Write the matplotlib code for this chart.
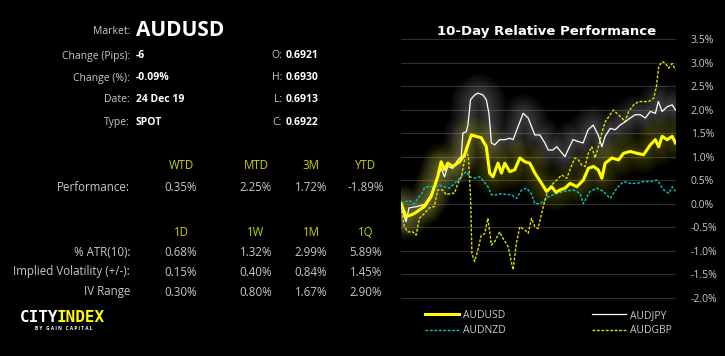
import matplotlib.pyplot as plt
from matplotlib.ticker import FuncFormatter

plt.rcParams['font.family'] = ['Open Sans', 'DejaVu Sans']

# --- datos del panel izquierdo ---
market = 'AUDUSD'
info_labels = ['Change (Pips):', 'Change (%):', 'Date:', 'Type:']
info_values = ['-6', '-0.09%', '24 Dec 19', 'SPOT']
ohlc_labels = ['O:', 'H:', 'L:', 'C:']
ohlc_values = ['0.6921', '0.6930', '0.6913', '0.6922']

perf_headers = ['WTD', 'MTD', '3M', 'YTD']
perf_values = ['0.35%', '2.25%', '1.72%', '-1.89%']

vol_headers = ['1D', '1W', '1M', '1Q']
vol_rows = ['% ATR(10):', 'Implied Volatility (+/-):', 'IV Range']
vol_values = [
    ['0.68%', '1.32%', '2.99%', '5.89%'],
    ['0.15%', '0.40%', '0.84%', '1.45%'],
    ['0.30%', '0.80%', '1.67%', '2.90%'],
]

# --- rendimiento relativo 10 dias (horas desde inicio, %) ---
usd_h = [0, 4.4, 11.7, 20.5, 26.3, 32.1, 35.1, 38.0, 40.9, 45.3, 51.2, 55.6, 58.5, 61.5,
         65.8, 70.2, 74.6, 77.5, 80.4, 84.8, 87.8, 90.7, 95.1, 99.5, 103.9, 108.3, 112.6,
         117.0, 122.9, 127.3, 131.7, 135.5, 139.0, 143.5, 147.8, 153.7, 159.4, 163.8, 168.2,
         172.4, 175.6, 178.5, 184.4, 190.2, 194.6, 200.4, 206.3, 212.1, 218.0, 222.4, 225.3,
         228.3, 232.7, 237.1, 240]
usd_v = [0.0, -0.28, -0.21, -0.06, 0.15, 0.57, 0.89, 0.72, 0.86, 0.79, 0.89, 1.04, 1.25, 1.46,
         1.43, 1.40, 1.21, 0.65, 0.57, 0.86, 0.65, 0.86, 0.68, 0.72, 0.97, 0.89, 0.86,
         0.65, 0.43, 0.26, 0.36, 0.24, 0.29, 0.33, 0.43, 0.36, 0.50, 0.75, 0.79,
         0.72, 0.54, 0.86, 0.97, 0.93, 1.07, 1.11, 1.07, 1.04, 1.25, 1.36, 1.21,
         1.43, 1.36, 1.43, 1.29]

jpy_h = [0, 4.4, 7.0, 14.6, 20.5, 26.3, 32.1, 35.1, 38.0, 40.9, 45.3, 49.7, 52.7, 54.1, 57.1,
         58.5, 60.8, 64.4, 67.3, 71.6, 74.6, 76.9, 79.0, 81.9, 86.3, 90.7, 95.1, 98.0, 102.4,
         106.8, 111.2, 114.1, 117.0, 121.4, 125.8, 128.7, 132.8, 136.1, 143.4, 146.0, 150.4,
         154.8, 159.2, 163.6, 168.0, 172.4, 175.6, 178.5, 182.9, 187.3, 191.6, 196.0, 200.4,
         204.8, 209.2, 213.6, 218.0, 222.4, 225.0, 228.3, 232.7, 237.1, 240]
jpy_v = [-0.05, -0.38, -0.09, -0.06, -0.02, 0.19, 0.57, 0.75, 0.57, 0.79, 0.75, 0.93, 1.00, 1.50, 1.53,
         1.67, 2.21, 2.31, 2.35, 2.31, 2.21, 1.92, 1.29, 1.25, 1.36, 1.36, 1.39, 1.36, 1.64,
         1.92, 1.82, 1.64, 1.46, 1.46, 1.29, 1.14, 1.14, 1.21, 1.00, 1.14, 1.36,
         1.32, 1.29, 1.57, 1.67, 1.46, 1.21, 1.43, 1.60, 1.57, 1.67, 1.74, 1.82,
         1.89, 1.89, 1.82, 1.96, 1.92, 2.17, 1.96, 2.06, 2.10, 1.99]

nzd_h = [0, 4.4, 7.0, 11.7, 14.6, 17.6, 20.5, 23.4, 29.2, 33.6, 38.0, 42.4, 46.8, 51.2, 55.6,
         57.1, 60.0, 64.4, 68.7, 71.6, 76.0, 79.0, 83.4, 87.8, 92.2, 96.6, 101.0, 105.4, 109.8,
         114.1, 117.0, 121.4, 125.8, 128.7, 133.1, 141.9, 150.7, 156.6, 159.4, 165.3, 171.2,
         177.0, 182.9, 188.8, 194.6, 200.4, 206.3, 212.1, 218.0, 223.9, 229.7, 234.1, 237.1, 240]
nzd_v = [0.0, 0.04, 0.07, 0.0, 0.11, 0.19, 0.33, 0.36, 0.36, 0.39, 0.36, 0.33, 0.43, 0.54, 0.65,
         0.68, 0.57, 0.54, 0.57, 0.50, 0.36, 0.19, 0.19, 0.21, 0.19, 0.19, 0.11, 0.29, 0.33,
         0.21, 0.0, 0.0, 0.07, 0.14, 0.19, 0.26, 0.29, 0.22, 0.0, 0.26, 0.33,
         0.26, 0.11, 0.33, 0.47, 0.43, 0.43, 0.47, 0.47, 0.50, 0.29, 0.22, 0.36, 0.26]

gbp_h = [0, 2.9, 5.8, 10.2, 13.2, 16.1, 20.5, 24.8, 29.2, 32.1, 36.5, 39.5, 43.9, 46.8, 49.7,
         52.7, 55.6, 57.1, 59.1, 60.8, 62.0, 64.4, 67.3, 70.2, 73.1, 76.0, 79.0, 81.9, 86.3,
         89.2, 93.6, 98.0, 100.9, 103.9, 108.3, 111.2, 114.1, 117.0, 119.9, 122.9, 125.8, 128.7,
         133.1, 136.1, 140.5, 144.9, 149.3, 152.2, 155.1, 158.0, 160.9, 163.8, 166.8, 169.7,
         172.6, 175.6, 178.5, 182.9, 185.8, 188.7, 193.1, 196.0, 199.0, 203.4, 207.8, 212.1,
         216.5, 220.9, 223.3, 225.3, 228.3, 231.2, 234.1, 237.1, 240]
gbp_v = [-0.06, -0.49, -0.60, -0.60, -0.67, -0.31, -0.21, -0.09, -0.06, 0.29, 0.29, 0.19, 0.22, 0.22, 0.43,
         0.57, 0.93, 1.21, 0.93, 0.15, -1.06, -1.23, -0.98, -0.67, -0.64, -0.31, -0.88, -0.81, -0.60,
         -0.74, -0.91, -1.41, -0.84, -0.49, -0.56, -0.63, -0.31, -0.49, -0.53, -0.21, 0.07, 0.29,
         0.43, 0.50, 0.61, 0.54, 0.82, 0.97, 0.93, 0.82, 0.79, 1.07, 1.21, 0.97,
         1.21, 1.50, 1.74, 1.89, 1.99, 1.92, 1.82, 1.74, 1.96, 2.10, 2.17, 2.17,
         2.17, 2.24, 2.49, 2.91, 3.02, 2.98, 2.88, 2.98, 2.84]

W, H = 725, 356
fig = plt.figure(figsize=(W / 100, H / 100), dpi=100, facecolor='black')

GRIS = '#c8c8c8'
VERDE = '#c8d200'


def fx(px):
    return px / W


def fy(py):
    return 1 - py / H


# --- panel izquierdo ---
fig.text(fx(130), fy(32), 'Market:', color=GRIS, fontsize=7.5, ha='right', va='center')
fig.text(fx(136), fy(30), market, color='white', fontsize=15, fontweight='bold', ha='left', va='center')
for i, (lab, val) in enumerate(zip(info_labels, info_values)):
    y = 56 + 22 * i
    fig.text(fx(130), fy(y), lab, color=GRIS, fontsize=7.5, ha='right', va='center')
    fig.text(fx(136), fy(y), val, color='white', fontsize=7.5, fontweight='bold', ha='left', va='center')
for i, (lab, val) in enumerate(zip(ohlc_labels, ohlc_values)):
    y = 56 + 22 * i
    fig.text(fx(282), fy(y), lab, color=GRIS, fontsize=7.5, ha='right', va='center')
    fig.text(fx(286), fy(y), val, color='white', fontsize=7.5, fontweight='bold', ha='left', va='center')

cols_x = [181, 256, 311, 366]
for cx, h in zip(cols_x, perf_headers):
    fig.text(fx(cx), fy(166), h, color=VERDE, fontsize=8.3, ha='center', va='center')
fig.text(fx(130), fy(188), 'Performance:', color=GRIS, fontsize=8.3, ha='right', va='center')
for cx, v in zip(cols_x, perf_values):
    fig.text(fx(cx), fy(188), v, color=GRIS, fontsize=8.3, ha='center', va='center')

for cx, h in zip(cols_x, vol_headers):
    fig.text(fx(cx), fy(232), h, color=VERDE, fontsize=8.3, ha='center', va='center')
for r, (lab, vals) in enumerate(zip(vol_rows, vol_values)):
    y = 252 + 20 * r
    fig.text(fx(130), fy(y), lab, color=GRIS, fontsize=8.3, ha='right', va='center')
    for cx, v in zip(cols_x, vals):
        fig.text(fx(cx), fy(y), v, color=GRIS, fontsize=8.3, ha='center', va='center')

# logo
fig.text(fx(20), fy(318), 'CITY', color='white', fontsize=11.5, fontweight='bold',
         ha='left', va='center', family='DejaVu Sans Mono')
fig.text(fx(57), fy(318), 'INDEX', color='#ffff00', fontsize=11.5, fontweight='bold',
         ha='left', va='center', family='DejaVu Sans Mono')
fig.text(fx(64), fy(328), 'B Y   G A I N   C A P I T A L', color='white', fontsize=3.4,
         fontweight='bold', ha='center', va='center')

# --- grafico ---
ax = fig.add_axes([fx(401), 1 - 302.4 / H, fx(675.5) - fx(401), (302.4 - 34.3) / H])
ax.set_facecolor('black')
ax.set_xlim(0, 240)
ax.set_ylim(-2.1, 3.6)
ax.set_yticks([-2.0, -1.5, -1.0, -0.5, 0.0, 0.5, 1.0, 1.5, 2.0, 2.5, 3.0, 3.5])
ax.yaxis.set_major_formatter(FuncFormatter(lambda v, p: f'{v:.1f}%'))
ax.yaxis.tick_right()
ax.tick_params(axis='y', length=0, pad=11, labelsize=7.5, labelcolor=GRIS)
ax.set_xticks([])
ax.grid(axis='y', color='#2e2e2e', linewidth=0.8)
for s in ax.spines.values():
    s.set_visible(False)

# halo suave
for lw in range(4, 30, 2):
    ax.plot(jpy_h, jpy_v, color='#d8d8d8', lw=lw, alpha=0.022, solid_capstyle='round',
            solid_joinstyle='round')
    ax.plot(usd_h, usd_v, color='#ffff00', lw=lw, alpha=0.02, solid_capstyle='round',
            solid_joinstyle='round')

l_nzd, = ax.plot(nzd_h, nzd_v, color='#00c8c8', lw=1.0, dashes=(2, 1.2), label='AUDNZD')
l_gbp, = ax.plot(gbp_h, gbp_v, color='#e0e000', lw=1.0, dashes=(2, 1.2), label='AUDGBP')
l_jpy, = ax.plot(jpy_h, jpy_v, color='white', lw=0.9, label='AUDJPY')
l_usd, = ax.plot(usd_h, usd_v, color='#ffff00', lw=2.2, label='AUDUSD')

fig.text(fx(547), fy(32), '10-Day Relative Performance', color='white', fontsize=9.5,
         fontweight='bold', ha='center', va='center', family='DejaVu Sans')

fig.legend(handles=[l_usd, l_nzd, l_jpy, l_gbp], ncol=2, loc='center',
           bbox_to_anchor=(fx(548), fy(323)), frameon=False, fontsize=7.5,
           labelcolor=GRIS, handlelength=3.3, handletextpad=0.35,
           columnspacing=8.3, labelspacing=0.45)

fig.savefig('out.png', dpi=100, facecolor='black')
